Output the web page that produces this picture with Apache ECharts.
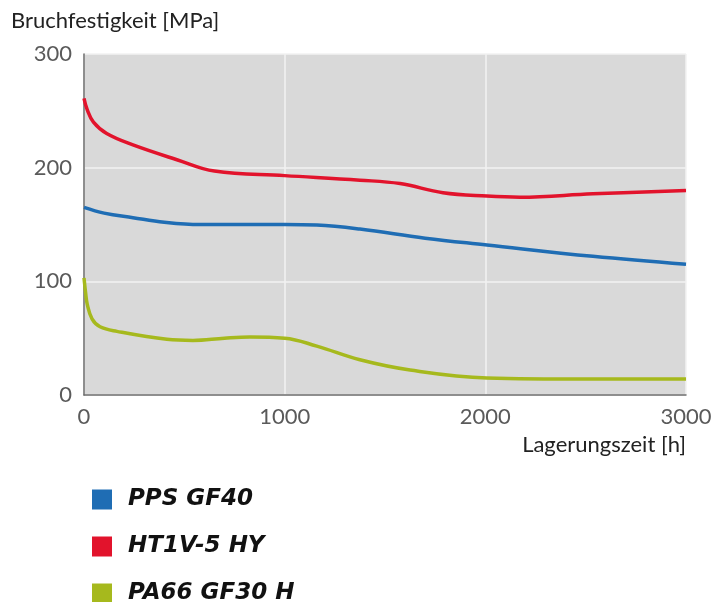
<!DOCTYPE html>
<html>
<head>
<meta charset="utf-8">
<script src="https://cdn.jsdelivr.net/npm/echarts@6/dist/echarts.min.js"></script>
<style>
  html, body { margin: 0; padding: 0; background: #fff; }
  #chart { width: 715px; height: 602px; }
</style>
</head>
<body>
<div id="chart"></div>
<script>
  // Werte: [Lagerungszeit h, Bruchfestigkeit MPa]
  const seriesNames = ['PPS GF40', 'HT1V-5 HY', 'PA66 GF30 H']
  const seriesColors = ['#1f6db4', '#e2132c', '#a6b91d']
  const ppsGF40 = [[0, 165], [100, 160], [244, 156], [400, 152], [578, 150], [800, 150], [1000, 150],
    [1160, 149.5], [1375, 146], [1700, 138], [2008, 132], [2536, 122], [3000, 115]]
  const ht1v5HY = [[0, 261], [16, 251], [47, 240], [113, 230], [244, 220], [463, 207], [650, 197],
    [1000, 193], [1375, 189], [1575, 186], [1789, 178], [2008, 175], [2172, 174], [2536, 177], [3000, 180]]
  const pa66GF30H = [[0, 103], [8, 90], [16, 80], [40, 67], [80, 60], [164, 56], [413, 49], [543, 48],
    [700, 50], [827, 51], [1000, 50], [1160, 43], [1375, 31], [1625, 22], [2008, 15], [2500, 14], [3000, 14]]
  const seriesData = [ppsGF40, ht1v5HY, pa66GF30H]

  const labelFont = 'Lato'
  // eine Legende pro Zeile, damit nichts umbricht
  let legends = seriesNames.map(function (name, i) {
    return {
      orient: 'vertical',
      left: 87,
      top: 483 + i * 47,
      itemWidth: 20,
      itemHeight: 20,
      icon: 'rect',
      data: [name],
      textStyle: {
        fontFamily: 'DejaVu Sans',
        fontSize: 23,
        fontWeight: 'bold',
        fontStyle: 'italic',
        color: '#111',
        lineHeight: 20,
        padding: [0, 0, 0, 11]
      }
    }
  })

  let myChart = echarts.init(document.getElementById('chart'))
  myChart.setOption({
    animation: false,
    title: {
      text: 'Bruchfestigkeit [MPa]',
      left: 6,
      top: 5,
      textStyle: { fontFamily: labelFont, fontSize: 22, fontWeight: 'normal', color: '#222' }
    },
    legend: legends,
    grid: {
      left: 84,
      right: 29,
      top: 54,
      bottom: 207,
      show: true,
      backgroundColor: '#d9d9d9',
      borderWidth: 0
    },
    xAxis: {
      type: 'value',
      min: 0,
      max: 3000,
      interval: 1000,
      name: 'Lagerungszeit [h]',
      nameLocation: 'end',
      nameGap: 0,
      nameTextStyle: {
        fontFamily: labelFont, fontSize: 22, color: '#222',
        align: 'right', verticalAlign: 'top', padding: [39, 0, 0, 0]
      },
      axisLine: { show: true, lineStyle: { color: '#6e6e6e', width: 1.5 } },
      axisTick: { show: false },
      axisLabel: {
        fontFamily: labelFont, fontSize: 22, color: '#5a5a5a', margin: 11,
        formatter: function (v) { return String(v) }
      },
      splitLine: { show: true, lineStyle: { color: '#f2f2f2', width: 1.5 } }
    },
    yAxis: {
      type: 'value',
      min: 0,
      max: 300,
      interval: 100,
      axisLine: { show: true, lineStyle: { color: '#6e6e6e', width: 1.5 } },
      axisTick: { show: false },
      axisLabel: { fontFamily: labelFont, fontSize: 22, color: '#5a5a5a', margin: 12 },
      splitLine: { show: true, lineStyle: { color: '#f2f2f2', width: 1.5 } }
    },
    series: seriesNames.map(function (name, i) {
      return {
        name: name,
        type: 'line',
        smooth: 0.4,
        showSymbol: false,
        color: seriesColors[i],
        lineStyle: { width: 3.5, color: seriesColors[i] },
        data: seriesData[i]
      }
    })
  })
</script>
</body>
</html>
